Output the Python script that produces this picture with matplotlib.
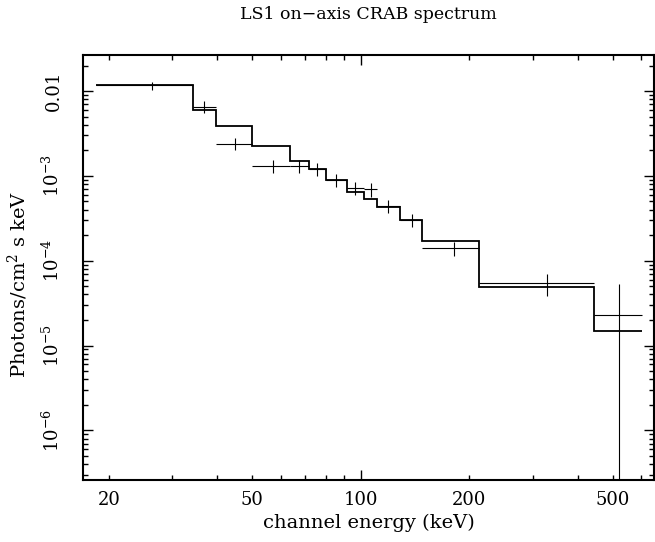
import numpy as np
import matplotlib
matplotlib.use("Agg")
import matplotlib.pyplot as plt
from matplotlib.ticker import FixedLocator, FuncFormatter, NullFormatter

# bin edges (keV) shared by data and model
edges = [18.4, 34.1, 39.6, 50.0, 63.5, 71.8, 80.0, 91.4, 102.2, 110.6,
         128.4, 147.8, 212.8, 444.7, 602.5]

# data points: cross positions, fluxes and error limits
centers = [26.3, 36.6, 44.8, 56.9, 67.4, 75.5, 85.3, 96.4, 106.7, 119.1,
           138.3, 181.0, 328.0, 522.0]
flux = [0.01177, 0.00643, 0.00235, 0.001294, 0.001315, 0.00119, 0.000885,
        0.000713, 0.000693, 0.000437, 0.000298, 0.0001397, 5.40e-5, 2.26e-5]
flux_hi = [0.01289, 0.00762, 0.00277, 0.001535, 0.001535, 0.001403, 0.00105,
           0.000838, 0.000818, 0.000519, 0.000352, 0.000167, 6.95e-5, 5.25e-5]
flux_lo = [0.01027, 0.00546, 0.00201, 0.00109, 0.00109, 0.000995, 0.000744,
           0.000594, 0.000567, 0.000367, 0.000247, 0.0001143, 3.85e-5, 1e-9]

# folded model, one value per bin
model = [0.01177, 0.00597, 0.00384, 0.00223, 0.001483, 0.001194, 0.000885,
         0.000650, 0.000528, 0.000425, 0.000298, 0.000169, 4.84e-5, 1.466e-5]

x_labels = [20, 50, 100, 200, 500]
y_labels = {0.01: "0.01", 1e-3: r"$10^{-3}$", 1e-4: r"$10^{-4}$",
            1e-5: r"$10^{-5}$", 1e-6: r"$10^{-6}$"}

plt.rcParams["font.family"] = "DejaVu Serif"
plt.rcParams["mathtext.fontset"] = "dejavuserif"

fig = plt.figure(figsize=(6.55, 5.42), dpi=100)
ax = fig.add_axes([0.1263, 0.1144, 0.8726, 0.7836])

c = np.array(centers)
e = np.array(edges)
f = np.array(flux)
xerr = [c - e[:-1], e[1:] - c]
yerr = [f - np.array(flux_lo), np.array(flux_hi) - f]

ax.errorbar(c, f, xerr=xerr, yerr=yerr, fmt="none", ecolor="black",
            elinewidth=0.8, capsize=0)
ax.stairs(model, edges, baseline=None, color="black", linewidth=1.3)

ax.set_xscale("log")
ax.set_yscale("log")
ax.set_xlim(16.9, 653)
ax.set_ylim(2.6e-7, 0.0264)

# x ticks: only 100 is a long tick
ax.xaxis.set_major_locator(FixedLocator([100]))
minor_x = [20, 30, 40, 50, 60, 70, 80, 90, 200, 300, 400, 500, 600]
ax.xaxis.set_minor_locator(FixedLocator(minor_x))
ax.xaxis.set_major_formatter(FuncFormatter(lambda v, p: "%d" % v))
ax.xaxis.set_minor_formatter(
    FuncFormatter(lambda v, p: "%d" % v if round(v) in x_labels else ""))

ax.yaxis.set_major_locator(FixedLocator([1e-6, 1e-5, 1e-4, 1e-3, 1e-2]))
minor_y = [m * 10.0 ** k for k in range(-7, -1) for m in range(2, 10)]
ax.yaxis.set_minor_locator(FixedLocator(minor_y))
ax.yaxis.set_major_formatter(
    FuncFormatter(lambda v, p: y_labels.get(float("%.0e" % v), "")))
ax.yaxis.set_minor_formatter(NullFormatter())

ax.tick_params(which="both", direction="in", top=True, right=True,
               width=1.0, labelsize=13, colors="black")
ax.tick_params(which="major", length=7.5)
ax.tick_params(which="minor", length=3.8)
ax.tick_params(axis="x", which="both", pad=8)
ax.tick_params(axis="y", which="both", pad=14)
for lab in ax.get_yticklabels():
    lab.set_rotation(90)
    lab.set_va("center")

for s in ax.spines.values():
    s.set_linewidth(1.5)

ax.set_xlabel("channel energy (keV)", fontsize=14, labelpad=3)
ax.set_ylabel(r"Photons/cm$^2$ s keV", fontsize=14)
ax.yaxis.set_label_coords(-0.093, 0.46)
ax.set_title("LS1 on\u2212axis CRAB spectrum", fontsize=12.5, pad=26)

fig.savefig("out.png", dpi=100)
